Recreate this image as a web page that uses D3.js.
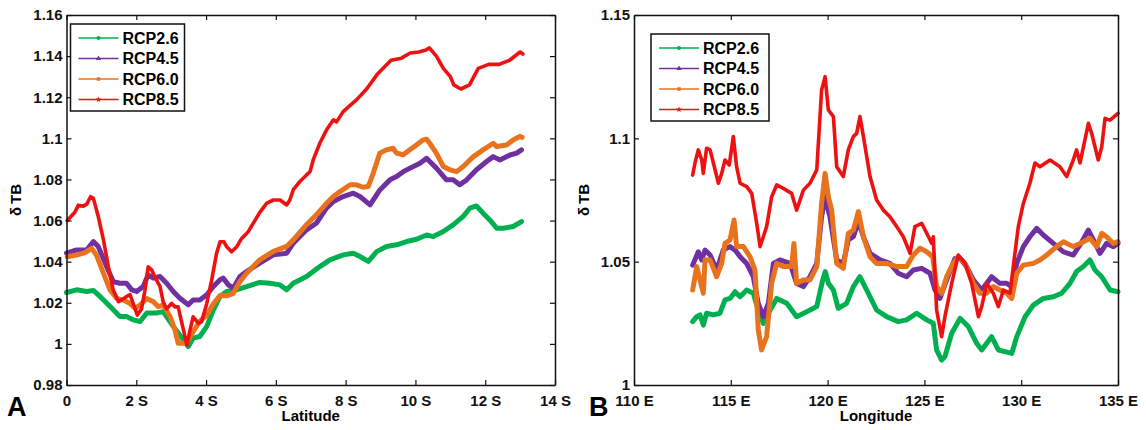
<!DOCTYPE html>
<html>
<head>
<meta charset="utf-8">
<script src="https://cdn.jsdelivr.net/npm/d3@7"></script>
<style>
  body { margin: 0; background: #fff; }
  svg { display: block; font-family: "Liberation Sans", Arial, sans-serif; }
  .tick text { font-size: 15px; font-weight: bold; fill: #111; }
  .domain { stroke: #111; stroke-width: 1.5px; }
  .tick line { stroke: #111; stroke-width: 1.2px; }
</style>
</head>
<body>
<div id="chart"></div>
<script>
// ---- panel A : latitude ----
const latTicks = [0, 2, 4, 6, 8, 10, 12, 14];
const latYTicks = [0.98, 1, 1.02, 1.04, 1.06, 1.08, 1.1, 1.12, 1.14, 1.16];

const latX26 = [0,0.29,0.58,0.77,0.96,1.25,1.53,1.72,1.91,2.11,2.3,2.58,2.77,3.06,3.35,3.49,3.63,3.82,4.02,4.21,4.4,4.59,4.87,5.16,5.54,5.83,6.12,6.31,6.5,6.88,7.26,7.55,7.93,8.22,8.41,8.65,8.89,9.17,9.46,9.75,10.03,10.32,10.51,10.8,11.08,11.37,11.56,11.75,11.94,12.13,12.33,12.52,12.8,13.04];
const latV26 = [1.025,1.0263,1.0255,1.026,1.0231,1.0182,1.0133,1.0133,1.0117,1.0109,1.015,1.015,1.0157,1.0085,1.002,0.9987,1.0028,1.0036,1.0085,1.0166,1.0231,1.0255,1.0263,1.0279,1.0299,1.0295,1.0287,1.0263,1.0295,1.0328,1.0376,1.0409,1.0433,1.0441,1.0425,1.0401,1.0449,1.0474,1.0482,1.0498,1.0509,1.053,1.0522,1.0547,1.0579,1.062,1.066,1.0671,1.0636,1.0603,1.0563,1.0563,1.0571,1.0595];

const latX45 = [0,0.29,0.58,0.77,0.91,1.15,1.34,1.53,1.72,1.87,2.01,2.2,2.34,2.49,2.68,2.87,3.06,3.25,3.49,3.63,3.82,4.02,4.21,4.4,4.49,4.64,4.78,4.97,5.16,5.54,5.93,6.31,6.5,6.88,7.16,7.45,7.65,7.93,8.22,8.41,8.7,8.98,9.27,9.46,9.65,9.94,10.13,10.32,10.41,10.6,10.89,11.08,11.27,11.47,11.75,12.04,12.23,12.42,12.71,12.9,13.04];
const latV45 = [1.0441,1.0457,1.0457,1.0498,1.0474,1.0376,1.0303,1.0295,1.0295,1.0263,1.0255,1.0279,1.0336,1.032,1.0328,1.0295,1.0255,1.0222,1.019,1.0214,1.0214,1.0239,1.0279,1.0312,1.032,1.0287,1.0271,1.0328,1.0352,1.0393,1.0433,1.0441,1.049,1.0555,1.0587,1.066,1.0693,1.0717,1.0733,1.0717,1.0676,1.0749,1.0798,1.0814,1.0838,1.0863,1.0879,1.0903,1.0887,1.0855,1.0798,1.0798,1.0774,1.0798,1.0847,1.0887,1.0911,1.0895,1.0919,1.0928,1.0944];

const latX60 = [0.02,0.29,0.53,0.72,0.86,1.06,1.25,1.44,1.63,1.82,1.96,2.11,2.3,2.49,2.63,2.77,2.97,3.11,3.2,3.4,3.49,3.63,3.82,4.02,4.21,4.4,4.59,4.78,4.97,5.16,5.54,5.93,6.31,6.5,6.88,7.16,7.45,7.65,7.84,8.13,8.31,8.5,8.65,8.79,8.98,9.17,9.36,9.46,9.65,9.84,10.03,10.22,10.32,10.41,10.6,10.8,10.99,11.18,11.37,11.66,11.94,12.23,12.33,12.61,12.8,12.99,13.06];
const latV60 = [1.0424,1.0432,1.0444,1.0465,1.0432,1.0343,1.0262,1.0221,1.0213,1.0197,1.0173,1.0189,1.0221,1.0205,1.0181,1.0189,1.0132,1.0067,1.0003,1.0003,1.0019,1.0059,1.0110,1.0140,1.0195,1.0235,1.0234,1.0246,1.0303,1.0344,1.0409,1.045,1.0474,1.0506,1.058,1.0628,1.0684,1.0717,1.0741,1.0774,1.0774,1.0762,1.0766,1.083,1.0928,1.0944,1.0952,1.0928,1.092,1.0944,1.0968,1.0992,1.0996,1.0976,1.0928,1.0863,1.0847,1.0838,1.0863,1.0911,1.0944,1.0976,1.096,1.0968,1.0992,1.1009,1.1005];

const latX85 = [0.02,0.24,0.34,0.48,0.58,0.69,0.77,0.91,1.06,1.2,1.34,1.49,1.63,1.72,1.82,1.91,2.03,2.15,2.25,2.34,2.44,2.58,2.68,2.77,2.87,3.01,3.11,3.2,3.33,3.45,3.54,3.63,3.78,3.87,4.02,4.16,4.3,4.4,4.51,4.59,4.73,4.88,5.02,5.21,5.35,5.54,5.74,5.93,6.12,6.31,6.4,6.5,6.69,6.88,6.98,7.07,7.26,7.45,7.65,7.74,7.93,8.13,8.31,8.6,8.9,9.3,9.6,9.85,10.1,10.3,10.4,10.6,10.8,11.0,11.1,11.3,11.55,11.8,12.1,12.4,12.7,13.0,13.08];
const latV85 = [1.060,1.064,1.0675,1.067,1.068,1.0716,1.0708,1.062,1.0505,1.0375,1.0262,1.0205,1.022,1.023,1.024,1.0197,1.014,1.017,1.0262,1.0375,1.036,1.031,1.028,1.0205,1.017,1.0197,1.018,1.018,1.0084,0.9994,1.0067,1.0132,1.010,1.0108,1.0197,1.031,1.044,1.0497,1.0497,1.0473,1.0448,1.0473,1.0513,1.0546,1.0586,1.064,1.0685,1.070,1.070,1.0676,1.070,1.075,1.079,1.0822,1.0838,1.0895,1.0976,1.104,1.109,1.108,1.113,1.116,1.1187,1.124,1.131,1.138,1.139,1.1415,1.142,1.143,1.144,1.140,1.134,1.130,1.126,1.124,1.126,1.134,1.136,1.136,1.138,1.142,1.141];

// ---- panel B : longitude ----
const lonTicks = [110, 115, 120, 125, 130, 135];
const lonYTicks = [1, 1.05, 1.1, 1.15];

const lonX26 = [113.03,113.24,113.41,113.58,113.75,114.1,114.44,114.7,114.96,115.22,115.48,115.82,116.16,116.42,116.68,116.94,117.37,117.89,118.4,118.92,119.44,119.75,119.88,120.04,120.3,120.55,120.98,121.33,121.67,122.02,122.53,123.05,123.65,124.08,124.6,125.12,125.46,125.63,125.89,126.06,126.41,126.84,127.27,127.7,127.96,128.22,128.47,128.82,129.16,129.51,129.77,130.2,130.63,131.14,131.66,132.09,132.52,132.86,133.21,133.55,133.81,134.16,134.59,135.0];
const lonV26 = [1.0257,1.0277,1.0284,1.0243,1.0291,1.0284,1.0291,1.0345,1.0351,1.0378,1.0358,1.0385,1.0372,1.0304,1.025,1.0291,1.0351,1.0331,1.0277,1.0297,1.0318,1.0426,1.046,1.0412,1.0385,1.0311,1.0331,1.0399,1.0439,1.0385,1.0304,1.0277,1.0257,1.0264,1.0291,1.0264,1.025,1.0142,1.0101,1.0115,1.021,1.027,1.0237,1.0169,1.0142,1.0169,1.0196,1.0142,1.0135,1.0128,1.0196,1.0277,1.0324,1.0351,1.0358,1.0372,1.0412,1.046,1.048,1.0507,1.0466,1.0439,1.0385,1.0378];

const lonX45 = [113.03,113.32,113.5,113.67,113.93,114.27,114.61,114.96,115.22,115.48,115.82,116.16,116.42,116.68,116.94,117.2,117.54,118.06,118.4,118.75,119.09,119.44,119.69,119.87,120.12,120.47,120.81,121.07,121.33,121.59,121.85,122.19,122.71,123.22,123.65,124.08,124.43,124.86,125.29,125.55,125.8,126.15,126.58,126.84,127.18,127.53,127.96,128.47,128.9,129.25,129.51,129.77,130.11,130.45,130.8,131.14,131.66,132.18,132.69,133.04,133.47,133.73,134.07,134.41,134.76,135.0];
const lonV45 = [1.0486,1.054,1.0507,1.0547,1.0527,1.0466,1.0547,1.0561,1.0547,1.052,1.0493,1.0439,1.0331,1.0277,1.0331,1.0493,1.0507,1.0493,1.0412,1.0399,1.0439,1.0493,1.0682,1.0763,1.0682,1.0507,1.0493,1.0588,1.0601,1.0662,1.0601,1.0534,1.0507,1.0493,1.0453,1.0439,1.0466,1.0473,1.0453,1.0385,1.0351,1.0426,1.0513,1.0513,1.048,1.0426,1.0385,1.0439,1.0412,1.0412,1.0399,1.0493,1.0561,1.0601,1.0635,1.0608,1.0574,1.054,1.0527,1.0568,1.0628,1.0588,1.0534,1.0574,1.0561,1.0574];

const lonX60 = [113.03,113.24,113.41,113.58,113.67,113.93,114.27,114.53,114.7,114.96,115.17,115.3,115.65,115.99,116.25,116.42,116.59,116.85,117.11,117.37,117.71,118.14,118.26,118.4,118.75,119.09,119.44,119.69,119.87,120.04,120.21,120.47,120.81,121.07,121.33,121.59,121.85,122.19,122.53,123.05,123.57,124.08,124.43,124.77,125.12,125.43,125.63,125.89,126.15,126.49,126.75,127.1,127.53,127.87,128.22,128.56,128.9,129.25,129.51,129.77,130.11,130.63,130.97,131.32,131.83,132.18,132.69,133.04,133.55,133.9,134.16,134.41,134.76,135.0];
const lonV60 = [1.0385,1.048,1.0426,1.0372,1.0507,1.0507,1.0439,1.0493,1.0574,1.0588,1.0669,1.0561,1.0561,1.052,1.0466,1.0223,1.0142,1.0196,1.0412,1.0493,1.048,1.048,1.0574,1.0412,1.0426,1.0426,1.048,1.0736,1.0858,1.0763,1.0709,1.0493,1.0473,1.0615,1.0628,1.0703,1.0601,1.052,1.0493,1.0493,1.048,1.048,1.0527,1.0554,1.054,1.052,1.0399,1.0372,1.0439,1.0493,1.052,1.0493,1.0412,1.0372,1.0372,1.0399,1.0385,1.0372,1.0351,1.0453,1.0486,1.0493,1.0507,1.0527,1.0561,1.0581,1.0561,1.0574,1.0595,1.0561,1.0615,1.0601,1.0574,1.0581];

const lonX85 = [113.03,113.15,113.32,113.5,113.58,113.75,113.93,114.1,114.36,114.53,114.7,114.92,115.13,115.3,115.48,115.82,116.08,116.34,116.51,116.68,116.85,117.11,117.37,117.71,118.14,118.4,118.75,119.09,119.44,119.69,119.87,120.04,120.3,120.47,120.81,121.07,121.33,121.5,121.67,121.85,122.19,122.53,122.88,123.22,123.57,123.91,124.26,124.51,124.86,125.12,125.38,125.46,125.63,125.89,126.06,126.41,126.75,127.1,127.44,127.79,127.96,128.22,128.56,128.82,129.08,129.42,129.59,129.85,130.11,130.45,130.71,130.97,131.49,132.0,132.35,132.69,132.86,133.04,133.47,133.64,133.98,134.16,134.33,134.59,135.0];
const lonV85 = [1.0851,1.090,1.0953,1.0912,1.0858,1.096,1.0953,1.090,1.0818,1.0858,1.0912,1.0892,1.1007,1.0885,1.0818,1.0804,1.0777,1.0655,1.0561,1.0601,1.0642,1.0763,1.0811,1.0797,1.0777,1.0709,1.079,1.0818,1.0872,1.1196,1.125,1.1115,1.1088,1.0885,1.0845,1.0953,1.1007,1.102,1.1088,1.1007,1.0845,1.075,1.0709,1.0682,1.0642,1.0601,1.0534,1.0642,1.0655,1.0615,1.0574,1.0601,1.0304,1.0196,1.0277,1.0412,1.0527,1.0493,1.0412,1.0277,1.0318,1.0412,1.0372,1.0318,1.0385,1.0372,1.048,1.0642,1.0736,1.0818,1.090,1.0885,1.0912,1.0885,1.0845,1.0912,1.0953,1.090,1.1061,1.102,1.0912,1.0966,1.1081,1.1074,1.1101];

const scenarios = ["RCP2.6", "RCP4.5", "RCP6.0", "RCP8.5"];
const colors = ["#00b050", "#7030a0", "#e8731c", "#ee1111"];
const widths = [5, 5, 5, 3.6];

const zip = (xs, vs) => xs.map((x, i) => ({ x: x, v: vs[i] }));

const svg = d3.select("#chart").append("svg")
  .attr("width", 1146)
  .attr("height", 430);

function drawPanel(opts) {
  const x = d3.scaleLinear().domain(opts.xDomain).range([opts.left, opts.right]);
  const y = d3.scaleLinear().domain(opts.yDomain).range([opts.bottom, opts.top]);
  const g = svg.append("g");

  // lines
  const line = d3.line().x(d => x(d.x)).y(d => y(d.v));
  opts.series.forEach((s, i) => {
    g.append("path")
      .datum(s)
      .attr("fill", "none")
      .attr("stroke", colors[i])
      .attr("stroke-width", widths[i])
      .attr("stroke-linejoin", "round")
      .attr("stroke-linecap", "round")
      .attr("d", line);
  });

  // axes, ticks pointing inward
  g.append("g")
    .attr("transform", `translate(0,${opts.bottom})`)
    .call(d3.axisBottom(x).tickValues(opts.xTicks).tickSizeInner(-5).tickSizeOuter(0).tickPadding(10).tickFormat(opts.xFormat));
  g.append("g")
    .attr("transform", `translate(0,${opts.top})`)
    .call(d3.axisTop(x).tickValues(opts.xTicks).tickSizeInner(-5).tickSizeOuter(0).tickFormat(""));
  g.append("g")
    .attr("transform", `translate(${opts.left},0)`)
    .call(d3.axisLeft(y).tickValues(opts.yTicks).tickSizeInner(-5).tickSizeOuter(0).tickPadding(4).tickFormat(d => String(+d.toFixed(2))));
  g.append("g")
    .attr("transform", `translate(${opts.right},0)`)
    .call(d3.axisRight(y).tickValues(opts.yTicks).tickSizeInner(-5).tickSizeOuter(0).tickFormat(""));

  // axis titles
  g.append("text")
    .attr("x", (opts.left + opts.right) / 2)
    .attr("y", 421)
    .attr("text-anchor", "middle")
    .style("font-size", "15px")
    .style("font-weight", "bold")
    .text(opts.xTitle);
  const yt = g.append("text")
    .attr("transform", `translate(${opts.yTitleX},${(opts.top + opts.bottom) / 2}) rotate(-90)`)
    .attr("text-anchor", "middle")
    .style("font-size", "15px")
    .style("font-weight", "bold");
  yt.append("tspan").text("δ");
  yt.append("tspan").attr("dx", 3).text("TB");

  // panel letter
  g.append("text")
    .attr("x", opts.letterX)
    .attr("y", 416)
    .style("font-size", "27px")
    .style("font-weight", "bold")
    .text(opts.letter);

  // legend
  const lg = g.append("g").attr("transform", `translate(${opts.legX},${opts.legY})`);
  lg.append("rect")
    .attr("width", opts.legW).attr("height", 87)
    .attr("fill", "#fff").attr("stroke", "#111").attr("stroke-width", 1.5);
  scenarios.forEach((name, i) => {
    const yy = 14 + i * 20.5;
    lg.append("line")
      .attr("x1", 8).attr("x2", 48).attr("y1", yy).attr("y2", yy)
      .attr("stroke", colors[i]).attr("stroke-width", 1.6);
    const sym = [d3.symbolCircle, d3.symbolTriangle, d3.symbolSquare, d3.symbolStar][i];
    lg.append("path")
      .attr("transform", `translate(28,${yy})`)
      .attr("d", d3.symbol(sym, 12)())
      .attr("fill", colors[i]);
    lg.append("text")
      .attr("x", 52).attr("y", yy).attr("dy", "0.36em")
      .style("font-size", "16px").style("font-weight", "bold")
      .text(name);
  });
}

drawPanel({
  left: 66.5, right: 555, top: 15, bottom: 385,
  xDomain: [0, 14], yDomain: [0.98, 1.16],
  xTicks: latTicks, yTicks: latYTicks,
  xFormat: d => d === 0 ? "0" : d + " S",
  series: [zip(latX26, latV26), zip(latX45, latV45), zip(latX60, latV60), zip(latX85, latV85)],
  xTitle: "Latitude", yTitleX: 21, letter: "A", letterX: 7,
  legX: 70.5, legY: 24, legW: 114
});

drawPanel({
  left: 634, right: 1118, top: 15, bottom: 385,
  xDomain: [110, 135], yDomain: [1, 1.15],
  xTicks: lonTicks, yTicks: lonYTicks,
  xFormat: d => d + " E",
  series: [zip(lonX26, lonV26), zip(lonX45, lonV45), zip(lonX60, lonV60), zip(lonX85, lonV85)],
  xTitle: "Longitude", yTitleX: 589, letter: "B", letterX: 589,
  legX: 651, legY: 34, legW: 118
});
</script>
</body>
</html>
